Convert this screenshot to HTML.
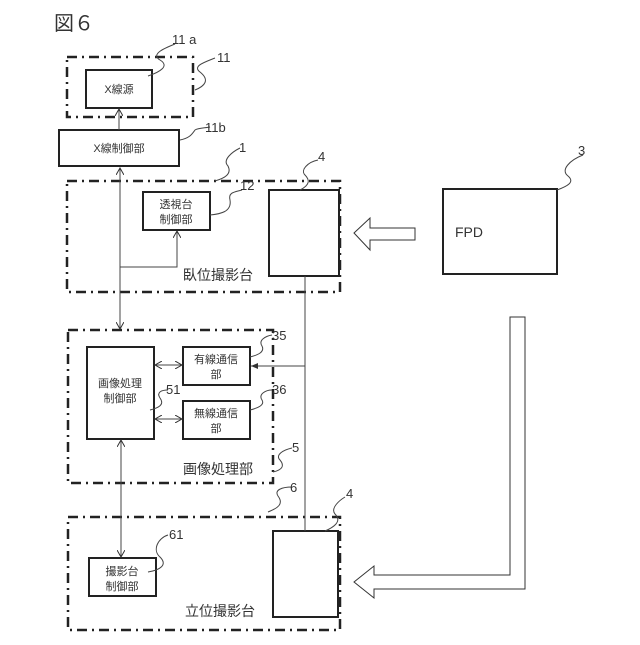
<!DOCTYPE html>
<html><head><meta charset="utf-8"><style>
body{margin:0;background:#fff}
svg text{font-family:"Liberation Sans","Noto Sans CJK JP",sans-serif;fill:#333}
</style></head><body>
<svg width="640" height="640" viewBox="0 0 640 640" xmlns="http://www.w3.org/2000/svg">
<defs>
<marker id="a" markerWidth="8" markerHeight="8" refX="7" refY="4" orient="auto-start-reverse" markerUnits="userSpaceOnUse"><path d="M0,0 L7,4 L0,8" fill="none" stroke="#333" stroke-width="1"/></marker>
<marker id="f" markerWidth="8" markerHeight="8" refX="7" refY="4" orient="auto" markerUnits="userSpaceOnUse"><path d="M0,1 L7,4 L0,7Z" fill="#333"/></marker>
</defs>
<text x="54" y="30" font-size="20">図６</text>
<g fill="none" stroke="#222" stroke-width="2.5" stroke-dasharray="10,5,2,5">
<rect x="67" y="57" width="126" height="60"/>
<rect x="67" y="181" width="273" height="111"/>
<rect x="68" y="330" width="205" height="153"/>
<rect x="68" y="517" width="272" height="113"/>
</g>
<g fill="#fff" stroke="#222" stroke-width="2">
<rect x="86" y="70" width="66" height="38"/>
<rect x="59" y="130" width="120" height="36"/>
<rect x="143" y="192" width="67" height="38"/>
<rect x="269" y="190" width="70" height="86"/>
<rect x="443" y="189" width="114" height="85"/>
<rect x="87" y="347" width="67" height="92"/>
<rect x="183" y="347" width="67" height="38"/>
<rect x="183" y="401" width="67" height="38"/>
<rect x="89" y="558" width="67" height="38"/>
<rect x="273" y="531" width="65" height="86"/>
</g>
<g stroke="#444" stroke-width="1" fill="none">
<line x1="119" y1="130" x2="119" y2="109" marker-end="url(#a)"/>
<line x1="120" y1="168" x2="120" y2="329" marker-start="url(#a)" marker-end="url(#a)"/>
<polyline points="120,267 177,267 177,231" marker-end="url(#a)"/>
<line x1="305" y1="276" x2="305" y2="531"/>
<line x1="305" y1="366" x2="251" y2="366" marker-end="url(#f)"/>
<line x1="155" y1="365" x2="182" y2="365" marker-start="url(#a)" marker-end="url(#a)"/>
<line x1="155" y1="419" x2="182" y2="419" marker-start="url(#a)" marker-end="url(#a)"/>
<line x1="121" y1="440" x2="121" y2="557" marker-start="url(#a)" marker-end="url(#a)"/>
<path d="M354,233 L370,218 L370,228 L415,228 L415,240 L370,240 L370,250 Z" stroke="#333"/>
<path d="M510,317 L525,317 L525,589 L374,589 L374,598 L354,582 L374,566 L374,575 L510,575 Z" stroke="#333"/>
<!-- leaders -->
<path d="M148,76 C160,72 170,66 160,60 C150,54 165,48 175,44"/>
<path d="M195,90 C205,86 210,80 200,72 C192,66 205,62 215,58"/>
<path d="M180,140 C190,138 192,134 195,130 C198,128 205,128 210,127"/>
<path d="M215,181 C225,178 232,174 228,166 C222,160 232,152 240,148"/>
<path d="M300,190 C310,185 310,180 305,175 C300,170 308,162 318,160"/>
<path d="M210,215 C220,214 232,212 230,200 C228,192 235,192 242,190"/>
<path d="M557,190 C568,186 575,182 568,176 C560,170 570,160 583,155"/>
<path d="M250,357 C258,355 265,352 262,346 C258,340 266,336 272,335"/>
<path d="M150,410 C158,408 165,405 160,398 C156,392 162,390 168,390"/>
<path d="M250,410 C258,408 265,405 262,400 C258,394 266,390 272,390"/>
<path d="M273,472 C282,470 285,466 280,460 C275,455 283,450 292,448"/>
<path d="M268,512 C278,508 284,504 278,496 C274,490 282,487 292,487"/>
<path d="M325,531 C332,528 343,522 335,514 C330,508 340,500 345,497"/>
<path d="M148,572 C160,570 168,565 160,557 C152,550 158,538 168,535"/>
</g>
<g font-size="11">
<text x="119" y="93" text-anchor="middle">X線源</text>
<text x="119" y="152" text-anchor="middle">X線制御部</text>
<text x="176" y="208" text-anchor="middle">透視台</text>
<text x="176" y="223" text-anchor="middle">制御部</text>
<text x="120" y="387" text-anchor="middle">画像処理</text>
<text x="120" y="402" text-anchor="middle">制御部</text>
<text x="216" y="363" text-anchor="middle">有線通信</text>
<text x="216" y="378" text-anchor="middle">部</text>
<text x="216" y="417" text-anchor="middle">無線通信</text>
<text x="216" y="432" text-anchor="middle">部</text>
<text x="122" y="575" text-anchor="middle">撮影台</text>
<text x="122" y="590" text-anchor="middle">制御部</text>
</g>
<g font-size="14">
<text x="183" y="280">臥位撮影台</text>
<text x="183" y="474">画像処理部</text>
<text x="185" y="616">立位撮影台</text>
<text x="455" y="237">FPD</text>
</g>
<g font-size="13">
<text x="172" y="44">11 a</text>
<text x="217" y="62">11</text>
<text x="205" y="132">11b</text>
<text x="239" y="152">1</text>
<text x="318" y="161">4</text>
<text x="240" y="190">12</text>
<text x="578" y="155">3</text>
<text x="272" y="340">35</text>
<text x="166" y="394">51</text>
<text x="272" y="394">36</text>
<text x="292" y="452">5</text>
<text x="290" y="492">6</text>
<text x="346" y="498">4</text>
<text x="169" y="539">61</text>
</g>
</svg>
</body></html>
